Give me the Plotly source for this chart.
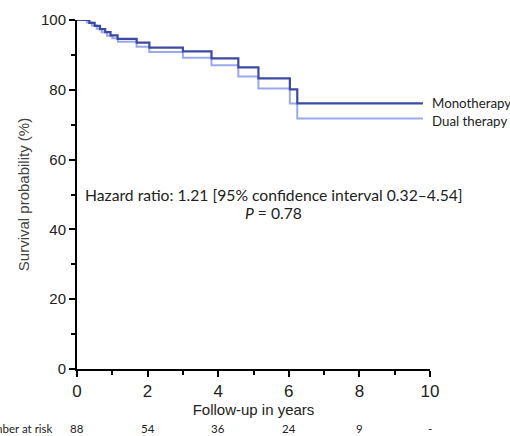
import plotly.graph_objects as go

# Kaplan-Meier step data (years, survival %)
mono_x = [0, 0.35, 0.5, 0.65, 0.8, 0.95, 1.15, 1.69, 2.05, 3.0, 3.81, 4.57, 5.14, 6.03, 6.24, 9.8]
mono_y = [100, 99.2, 98.3, 97.4, 96.5, 95.6, 94.6, 93.5, 92.1, 91.0, 89.0, 86.4, 83.3, 80.1, 76.1, 76.1]

dual_x = [0, 0.28, 0.42, 0.56, 0.7, 0.85, 1.0, 1.16, 1.69, 2.05, 3.0, 3.81, 4.57, 5.14, 6.03, 6.24, 9.8]
dual_y = [100, 99.3, 98.4, 97.5, 96.5, 95.5, 94.8, 93.8, 92.3, 90.8, 89.2, 87.0, 83.8, 80.4, 76.1, 71.8, 71.8]

risk_years = [0, 2, 4, 6, 8, 10]
risk_labels = ["88", "54", "36", "24", "9", "-"]

series_names = ["Monotherapy", "Dual therapy"]
colors = ["#3b4ba3", "#9ba9ee"]

fig = go.Figure()
fig.add_trace(go.Scatter(x=dual_x, y=dual_y, mode="lines", line=dict(shape="hv", color=colors[1], width=2),
                         name=series_names[1], showlegend=False))
fig.add_trace(go.Scatter(x=mono_x, y=mono_y, mode="lines", line=dict(shape="hv", color=colors[0], width=2.2),
                         name=series_names[0], showlegend=False))

text_font = "Lato, 'Noto Sans', sans-serif"
axis_font = "'Liberation Sans', Arial, sans-serif"

fig.add_annotation(x=1.0, y=0.763, xref="paper", yref="paper", text=series_names[0], showarrow=False,
                   xanchor="left", yanchor="middle", font=dict(family=text_font, size=13.3, color="#222"))
fig.add_annotation(x=1.0, y=0.711, xref="paper", yref="paper", text=series_names[1], showarrow=False,
                   xanchor="left", yanchor="middle", font=dict(family=text_font, size=13.3, color="#222"))

fig.add_annotation(x=0.558, y=0.4986, xref="paper", yref="paper",
                   text="Hazard ratio: 1.21 [95% confidence interval 0.32–4.54]", showarrow=False,
                   xanchor="center", yanchor="middle", font=dict(family=text_font, size=15.7, color="#222"))
fig.add_annotation(x=0.558, y=0.447, xref="paper", yref="paper",
                   text="<i>P</i> = 0.78", showarrow=False,
                   xanchor="center", yanchor="middle", font=dict(family=text_font, size=15.7, color="#222"))

for yr, lab in zip(risk_years, risk_labels):
    fig.add_annotation(x=yr / 10.0, y=-0.17, xref="paper", yref="paper", text=lab, showarrow=False,
                       xanchor="center", yanchor="middle", font=dict(family=text_font, size=11.5, color="#222"))
fig.add_annotation(x=-0.062, y=-0.17, xref="paper", yref="paper", text="Number at risk", showarrow=False,
                   xanchor="right", yanchor="middle", font=dict(family=text_font, size=11.5, color="#222"))

fig.update_layout(
    width=510, height=436,
    margin=dict(l=77, r=80, t=20, b=67, autoexpand=False),
    paper_bgcolor="white", plot_bgcolor="white",
    font=dict(family=axis_font, color="#222"),
)
fig.update_xaxes(range=[0, 10], tickvals=[0, 2, 4, 6, 8, 10], showline=True, linecolor="black", linewidth=2,
                 ticks="outside", ticklen=6, tickwidth=2, tickcolor="black", showgrid=False, zeroline=False,
                 automargin=False,
                 tickfont=dict(size=17, family=axis_font, color="#222"),
                 minor=dict(tickvals=[1, 3, 5, 7, 9], ticks="outside", ticklen=4, tickwidth=2, tickcolor="black"),
                 title=dict(text="Follow-up in years", font=dict(size=15, family=axis_font, color="#222"), standoff=0))
fig.update_yaxes(range=[0, 100], tickvals=[0, 20, 40, 60, 80, 100], showline=True, linecolor="black", linewidth=2,
                 ticks="outside", ticklen=6, tickwidth=2, tickcolor="black", showgrid=False, zeroline=False,
                 automargin=False,
                 tickfont=dict(size=15, family=axis_font, color="#222"),
                 minor=dict(tickvals=[10, 30, 50, 70, 90], ticks="outside", ticklen=4, tickwidth=2, tickcolor="black"),
                 title=dict(text="Survival probability (%)", font=dict(size=15, family=axis_font, color="#444"), standoff=8))

fig.write_html("out.html", config={"displayModeBar": False},
               post_script="document.body.style.margin='0';document.body.style.overflow='hidden';")
